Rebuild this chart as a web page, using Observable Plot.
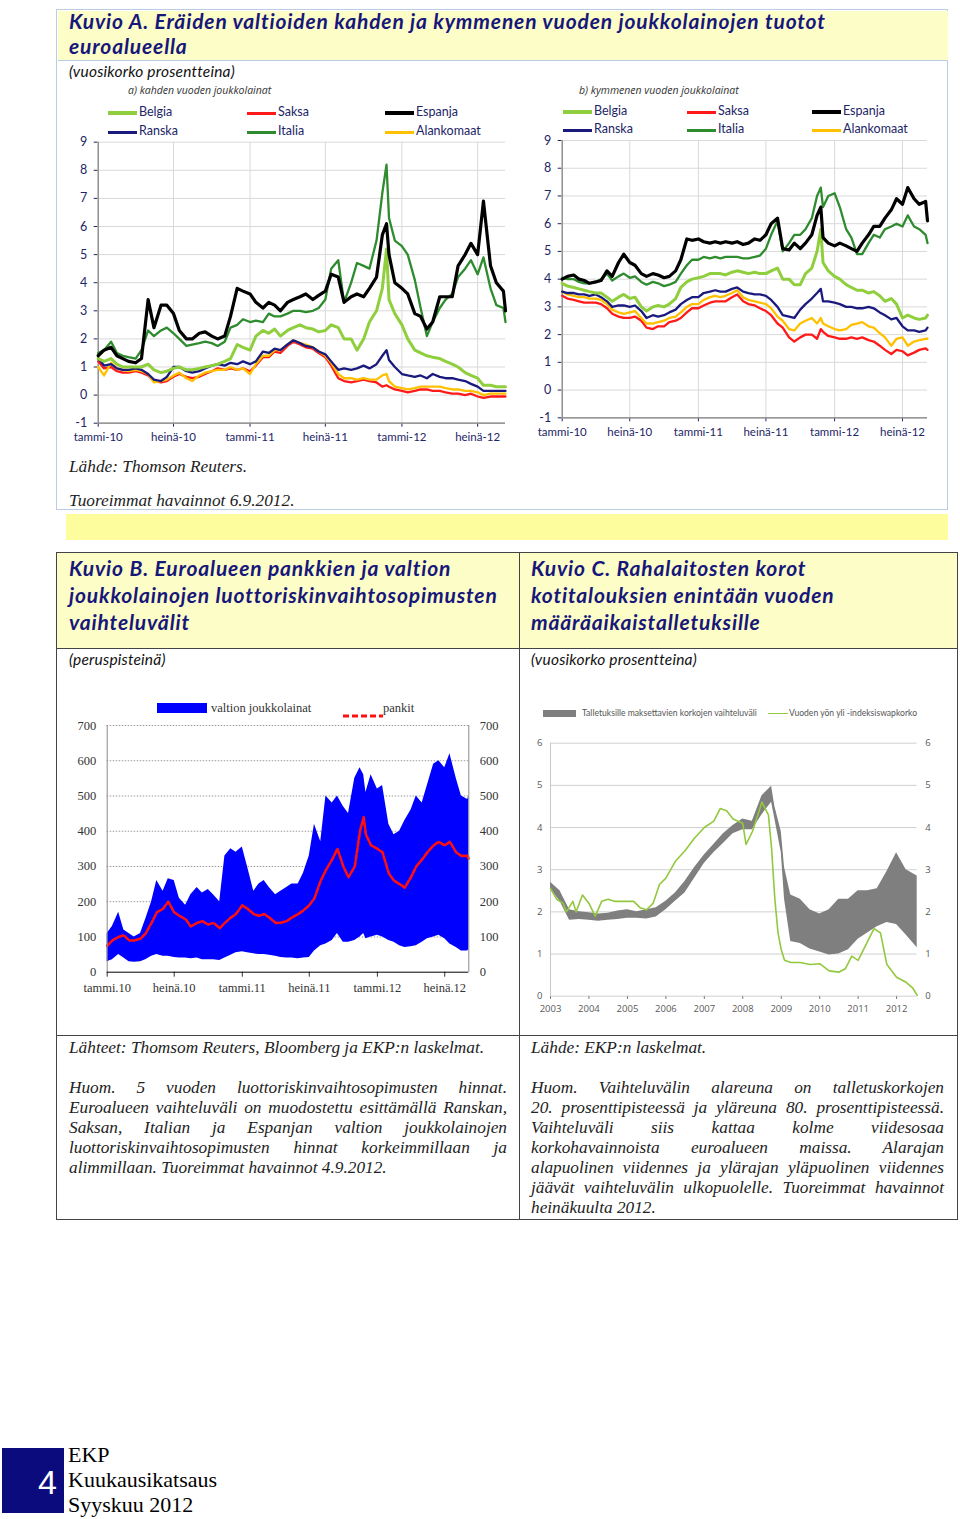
<!DOCTYPE html>
<html><head><meta charset="utf-8">
<script src="https://cdn.jsdelivr.net/npm/d3@7"></script>
<script src="https://cdn.jsdelivr.net/npm/@observablehq/plot@0.6"></script>
<style>
body{margin:0;background:#fff;}
#page{position:relative;width:960px;height:1519px;overflow:hidden;background:#fff;}
.abs{position:absolute;white-space:nowrap;}
.title{font-family:Lato,sans-serif;font-weight:bold;font-style:italic;color:#17177a;font-size:21px;letter-spacing:0.85px;line-height:27px;}
.sub{font-family:Lato,sans-serif;font-style:italic;font-size:15.5px;letter-spacing:0.2px;color:#111;line-height:18px;}
.serif{font-family:"Liberation Serif",serif;font-style:italic;font-size:17.3px;color:#222;line-height:20px;}
.lg{font-family:Lato,sans-serif;font-size:12.5px;color:#1c2566;line-height:14px;}
.pt{font-family:"Open Sans",sans-serif;font-style:italic;font-size:10.5px;color:#333;line-height:12px;}
.pa g[aria-label="x-axis tick label"]{font-size:11.5px;}
svg{overflow:visible;}
</style></head>
<body><div id="page"></div>
<script>
// ---------------- DATA ----------------
const datesA = ["2010-01-01","2010-01-15","2010-02-01","2010-02-15","2010-03-01","2010-03-15","2010-04-01","2010-04-15","2010-05-01","2010-05-15","2010-06-01","2010-06-15","2010-07-01","2010-07-15","2010-08-01","2010-08-15","2010-09-01","2010-09-15","2010-10-01","2010-10-15","2010-11-01","2010-11-15","2010-12-01","2010-12-15",
"2011-01-01","2011-01-15","2011-02-01","2011-02-15","2011-03-01","2011-03-15","2011-04-01","2011-04-15","2011-05-01","2011-05-15","2011-06-01","2011-06-15","2011-07-01","2011-07-15","2011-08-01","2011-08-15","2011-09-01","2011-09-15","2011-10-01","2011-10-15","2011-11-01","2011-11-15","2011-11-25","2011-12-01","2011-12-15",
"2012-01-01","2012-01-15","2012-02-01","2012-02-15","2012-03-01","2012-03-15","2012-04-01","2012-04-15","2012-05-01","2012-05-15","2012-06-01","2012-06-15","2012-07-01","2012-07-15","2012-08-01","2012-08-15","2012-09-01","2012-09-06"];

// 2-year yields
const belgia2y = [1.3,1.2,1.3,1.1,1.0,1.0,1.0,1.0,1.1,0.9,0.8,0.85,0.95,1.0,0.9,0.9,0.95,1.0,1.05,1.1,1.2,1.3,1.8,1.7,
1.6,2.1,2.3,2.2,2.35,2.1,2.3,2.4,2.5,2.4,2.35,2.25,2.3,2.5,2.4,2.0,2.0,1.6,2.0,2.6,3.0,3.8,5.2,3.4,2.9,
2.5,2.0,1.6,1.5,1.4,1.35,1.3,1.2,1.1,1.0,0.8,0.7,0.6,0.35,0.35,0.3,0.3,0.3];
const saksa2y = [1.2,0.95,1.0,0.85,0.8,0.8,0.85,0.8,0.7,0.5,0.45,0.5,0.65,0.75,0.65,0.6,0.65,0.75,0.85,0.95,0.9,0.95,0.9,0.95,
0.85,1.05,1.35,1.35,1.55,1.5,1.75,1.9,1.8,1.7,1.65,1.5,1.35,1.05,0.6,0.5,0.45,0.5,0.55,0.5,0.45,0.3,0.35,0.3,0.2,
0.15,0.1,0.15,0.2,0.2,0.15,0.15,0.1,0.05,0.05,0.0,0.05,-0.05,-0.1,-0.05,-0.05,-0.05,-0.05];
const espanja2y = [1.4,1.6,1.7,1.4,1.3,1.2,1.15,1.3,3.4,2.4,3.2,3.2,2.9,2.3,2.0,2.0,2.2,2.25,2.1,2.0,2.1,2.8,3.8,3.7,
3.6,3.3,3.1,3.3,3.2,3.0,3.3,3.4,3.5,3.6,3.4,3.55,3.7,4.3,4.2,3.3,3.5,3.6,3.5,3.8,4.2,5.7,6.1,5.0,4.0,
3.8,3.6,2.9,2.8,2.35,2.6,3.5,3.5,3.5,4.6,5.0,5.4,5.0,6.9,4.6,4.0,3.7,3.0];
const ranska2y = [1.3,1.05,1.1,0.95,0.9,0.9,0.95,0.9,0.75,0.55,0.5,0.65,1.0,1.0,0.85,0.8,0.85,0.95,1.05,1.1,1.05,1.15,1.1,1.2,
1.1,1.2,1.55,1.5,1.65,1.6,1.8,1.95,1.85,1.75,1.7,1.55,1.45,1.2,0.9,0.95,0.9,0.95,1.05,0.95,1.1,1.4,1.6,1.25,1.0,
0.75,0.7,0.65,0.7,0.6,0.75,0.65,0.6,0.6,0.55,0.5,0.4,0.3,0.15,0.15,0.15,0.15,0.15];
const italia2y = [1.5,1.6,1.9,1.5,1.4,1.35,1.3,1.6,2.3,2.1,2.3,2.4,2.2,2.0,1.75,1.8,1.85,1.9,1.85,1.75,1.9,2.4,2.5,2.7,
2.6,2.65,2.6,2.9,2.8,2.8,2.9,3.0,3.0,2.95,3.0,3.1,3.4,4.5,4.8,3.3,4.0,4.7,4.6,4.5,5.5,7.2,8.2,6.3,5.5,
5.3,5.0,4.1,3.1,2.1,2.6,3.1,3.4,3.6,4.2,4.5,4.8,4.3,4.9,3.8,3.2,3.1,2.6];
const alankomaat2y = [1.0,0.7,1.15,0.95,0.9,0.85,0.9,0.85,0.75,0.45,0.5,0.55,0.7,0.8,0.6,0.5,0.7,0.8,0.85,0.9,0.9,1.0,0.9,0.95,
0.75,1.1,1.4,1.4,1.6,1.6,1.8,1.95,1.85,1.8,1.7,1.55,1.4,1.15,0.75,0.6,0.6,0.55,0.6,0.55,0.55,0.7,0.75,0.5,0.3,
0.25,0.2,0.25,0.3,0.3,0.3,0.3,0.25,0.2,0.2,0.15,0.15,0.1,0.0,0.05,0.05,0.05,0.05];

// 10-year yields
const belgia10y = [3.85,3.75,3.7,3.65,3.6,3.55,3.5,3.5,3.35,3.2,3.35,3.45,3.3,3.35,3.0,2.85,3.0,3.05,3.0,3.1,3.3,3.7,3.9,4.0,
4.05,4.1,4.2,4.2,4.2,4.15,4.25,4.3,4.25,4.2,4.25,4.2,4.2,4.3,4.4,4.0,4.0,3.8,3.8,4.2,4.4,5.0,5.8,4.6,4.3,
4.1,4.0,3.8,3.7,3.6,3.6,3.5,3.55,3.4,3.2,3.3,3.1,2.6,2.7,2.6,2.55,2.6,2.7];
const saksa10y = [3.4,3.3,3.25,3.2,3.15,3.15,3.15,3.1,2.95,2.75,2.65,2.6,2.6,2.65,2.5,2.25,2.2,2.3,2.3,2.45,2.5,2.6,2.8,2.95,
2.95,3.05,3.15,3.2,3.2,3.2,3.35,3.45,3.2,3.1,3.05,2.95,2.85,2.7,2.4,2.25,1.9,1.75,1.9,2.0,2.0,1.85,2.2,2.1,1.95,
1.9,1.85,1.85,1.9,1.85,1.9,1.8,1.75,1.6,1.45,1.3,1.45,1.4,1.25,1.35,1.45,1.5,1.45];
const espanja10y = [4.0,4.1,4.15,4.0,3.95,3.85,3.9,3.95,4.3,4.1,4.6,4.9,4.6,4.5,4.2,4.1,4.2,4.15,4.05,4.1,4.3,4.7,5.45,5.4,
5.45,5.35,5.3,5.35,5.3,5.35,5.3,5.35,5.25,5.3,5.45,5.4,5.6,6.0,6.2,5.1,5.05,5.3,5.1,5.3,5.6,6.3,6.6,5.5,5.3,
5.2,5.3,5.2,5.1,5.0,5.3,5.6,5.9,5.9,6.2,6.5,6.9,6.7,7.3,6.9,6.7,6.8,6.1];
const ranska10y = [3.55,3.5,3.5,3.45,3.45,3.4,3.45,3.35,3.2,3.0,3.05,3.05,3.0,3.05,2.85,2.6,2.7,2.65,2.7,2.8,2.9,3.1,3.25,3.35,
3.35,3.5,3.55,3.6,3.55,3.55,3.65,3.7,3.55,3.5,3.45,3.45,3.4,3.25,3.0,2.7,2.65,2.6,2.9,3.1,3.3,3.5,3.65,3.2,3.2,
3.15,3.1,3.0,3.0,2.95,2.95,3.0,2.95,2.8,2.7,2.55,2.6,2.3,2.15,2.15,2.1,2.15,2.25];
const italia10y = [4.05,4.0,4.0,3.9,3.85,3.85,3.9,4.0,4.2,3.95,4.1,4.2,4.05,4.1,3.9,3.8,3.9,3.85,3.75,3.8,3.9,4.2,4.5,4.7,
4.7,4.8,4.75,4.8,4.75,4.8,4.8,4.8,4.75,4.75,4.8,4.85,5.1,5.6,6.1,5.0,5.3,5.6,5.6,5.8,6.2,7.0,7.3,6.6,7.0,
7.1,6.6,5.8,5.5,4.9,4.9,5.3,5.6,5.5,5.8,5.9,6.0,5.9,6.3,5.9,5.8,5.6,5.3];
const alankomaat10y = [3.55,3.45,3.4,3.35,3.35,3.3,3.3,3.25,3.1,2.9,2.8,2.75,2.8,2.85,2.6,2.4,2.4,2.45,2.5,2.6,2.65,2.8,3.0,3.1,
3.1,3.25,3.35,3.4,3.35,3.4,3.5,3.6,3.35,3.25,3.2,3.15,3.1,2.95,2.65,2.5,2.2,2.15,2.4,2.5,2.6,2.4,2.6,2.4,2.3,
2.2,2.15,2.2,2.35,2.4,2.45,2.3,2.25,2.05,1.9,1.6,1.85,1.9,1.6,1.75,1.8,1.85,1.85];

const seriesNames = ["Belgia","Saksa","Espanja","Ranska","Italia","Alankomaat"];
const tickDatesA = ["2010-01-01","2010-07-01","2011-01-01","2011-07-01","2012-01-01","2012-07-01"];
const tickLabelsA = ["tammi-10","heinä-10","tammi-11","heinä-11","tammi-12","heinä-12"];
const yTicksA = [-1,0,1,2,3,4,5,6,7,8,9];

// Kuvio B: CDS
const datesB = ["2010-01-01","2010-01-15","2010-02-01","2010-02-15","2010-03-01","2010-03-15","2010-04-01","2010-04-15","2010-05-01","2010-05-15","2010-06-01","2010-06-15","2010-07-01","2010-07-15","2010-08-01","2010-08-15","2010-09-01","2010-09-15","2010-10-01","2010-10-15","2010-11-01","2010-11-15","2010-12-01","2010-12-15",
"2011-01-01","2011-01-15","2011-02-01","2011-02-15","2011-03-01","2011-03-15","2011-04-01","2011-04-15","2011-05-01","2011-05-15","2011-06-01","2011-06-15","2011-07-01","2011-07-15","2011-08-01","2011-08-15","2011-09-01","2011-09-15","2011-10-01","2011-10-15","2011-11-01","2011-11-15","2011-11-25","2011-12-01","2011-12-15",
"2012-01-01","2012-01-15","2012-02-01","2012-02-15","2012-03-01","2012-03-15","2012-04-01","2012-04-15","2012-05-01","2012-05-15","2012-06-01","2012-06-15","2012-07-01","2012-07-15","2012-08-01","2012-08-15","2012-09-01","2012-09-04"];
const valtionHigh = [110,130,170,120,110,100,110,150,200,260,230,265,260,210,190,220,240,225,235,220,200,330,350,340,
355,300,230,250,260,240,220,230,240,250,250,280,330,420,370,500,480,500,470,450,550,580,560,510,560,
520,530,420,390,400,430,460,500,480,530,590,600,580,620,550,500,490,500];
const valtionLow = [30,35,50,40,30,28,30,35,45,50,45,45,42,40,40,38,40,35,35,35,33,40,48,55,
58,55,52,50,50,48,45,42,40,40,38,40,42,60,75,80,90,110,85,85,90,100,110,95,100,
105,100,90,85,75,70,72,75,85,95,100,105,95,80,70,60,60,65];
const pankit = [75,90,100,105,90,90,95,110,140,170,180,200,170,160,150,130,140,145,135,140,125,140,155,165,
190,180,165,160,165,155,140,140,145,155,165,175,190,210,260,290,320,350,300,270,300,400,440,390,360,
350,340,280,260,250,240,270,300,320,340,360,370,360,370,340,330,330,320];
const tickLabelsB = ["tammi.10","heinä.10","tammi.11","heinä.11","tammi.12","heinä.12"];
const yTicksB = [0,100,200,300,400,500,600,700];

// Kuvio C: deposit rates
const datesC = ["2003-01","2003-04","2003-07","2003-10","2004-01","2004-04","2004-07","2004-10","2005-01","2005-04","2005-07","2005-10","2006-01","2006-04","2006-07","2006-10","2007-01","2007-04","2007-07","2007-10","2008-01","2008-04","2008-07","2008-10","2008-11","2009-01","2009-02","2009-04","2009-07","2009-10","2010-01","2010-04","2010-07","2010-10","2011-01","2011-04","2011-07","2011-10","2012-01","2012-04","2012-07-15"];
const talletusYla = [2.7,2.5,2.05,2.0,1.98,1.95,1.97,2.02,2.05,2.0,2.05,2.1,2.25,2.45,2.72,3.05,3.35,3.6,3.85,4.05,4.2,4.15,4.75,4.98,4.5,3.9,3.05,2.4,2.3,2.05,1.95,2.05,2.3,2.3,2.5,2.5,2.55,2.95,3.4,3.0,2.85];
const talletusAla = [2.55,2.25,1.8,1.82,1.8,1.78,1.8,1.82,1.85,1.85,1.83,1.88,2.05,2.25,2.45,2.8,3.15,3.4,3.62,3.85,3.95,3.95,4.3,4.6,4.2,3.4,2.3,1.3,1.25,1.12,1.05,0.98,1.0,1.1,1.35,1.5,1.65,1.75,1.7,1.45,1.15];
const oisDates = ["2003-01","2003-03","2003-05","2003-06","2003-08","2003-09","2003-11","2004-01","2004-03","2004-05","2004-07","2004-09","2004-11","2005-01","2005-03","2005-05","2005-07","2005-09","2005-11","2006-01","2006-04","2006-07","2006-10","2007-01","2007-04","2007-06","2007-08","2007-10","2008-01","2008-02","2008-04","2008-07","2008-09","2008-10","2008-11","2008-12","2009-01","2009-02","2009-04","2009-07","2009-10","2010-01","2010-04","2010-07","2010-09","2010-11","2011-01","2011-04","2011-06","2011-08","2011-10","2012-01","2012-04","2012-06","2012-07-15"];
const oisKorko = [2.55,2.3,2.2,2.0,2.25,2.0,2.4,2.2,1.9,2.25,2.3,2.25,2.25,2.25,2.25,2.1,2.05,2.2,2.65,2.8,3.2,3.45,3.75,4.0,4.15,4.45,4.4,4.2,4.1,3.6,3.9,4.6,4.3,3.5,2.3,1.5,1.1,0.85,0.8,0.8,0.75,0.77,0.6,0.57,0.65,0.95,0.85,1.3,1.6,1.5,0.75,0.45,0.33,0.2,0.02];
const yearTicksC = ["2003-01-01","2004-01-01","2005-01-01","2006-01-01","2007-01-01","2008-01-01","2009-01-01","2010-01-01","2011-01-01","2012-01-01"];
const yearLabelsC = ["2003","2004","2005","2006","2007","2008","2009","2010","2011","2012"];
const yTicksC = [0,1,2,3,4,5,6];

// ---------------- BUILD ----------------
const page = document.getElementById("page");
function add(html, css, cls) {
  const d = document.createElement("div");
  d.className = "abs " + (cls || "");
  d.style.cssText += css;
  d.innerHTML = html;
  page.appendChild(d);
  return d;
}
function place(el, left, top, cls) {
  const d = document.createElement("div");
  d.className = "abs " + (cls || "");
  d.style.left = left + "px"; d.style.top = top + "px";
  d.appendChild(el);
  page.appendChild(d);
}
const D = s => new Date(s);

const colors = {Belgia:"#8fce3c", Saksa:"#ff1a1a", Espanja:"#000000", Ranska:"#1a1a7e", Italia:"#2e8b2e", Alankomaat:"#ffc000"};
const widths = {Belgia:3, Saksa:2.3, Espanja:3.2, Ranska:2.3, Italia:2.3, Alankomaat:2.3};
const drawOrder = ["Saksa","Alankomaat","Ranska","Belgia","Italia","Espanja"];

function bondPanel(valuesByName, endDate, w, h, m) {
  const start = D(datesA[0]), end = D(endDate);
  const lab = new Map(tickDatesA.map((d,i)=>[+D(d), tickLabelsA[i]]));
  const marks = [
    Plot.ruleY(yTicksA, {stroke:"#d9d9d9", strokeWidth:1}),
    Plot.ruleX(tickDatesA.map(D), {stroke:"#d9d9d9", strokeWidth:1}),
    Plot.ruleX([start], {stroke:"#7f7f7f", strokeWidth:1.2}),
    Plot.ruleY([-1], {stroke:"#7f7f7f", strokeWidth:1.2})
  ];
  for (const name of drawOrder) {
    const vals = valuesByName[name];
    const rows = datesA.map((d,i)=>({date:D(d), v:vals[i]}));
    marks.push(Plot.line(rows, {x:"date", y:"v", stroke:colors[name], strokeWidth:widths[name], strokeLinejoin:"round"}));
  }
  return Plot.plot({
    width:w, height:h, marginLeft:m[0], marginRight:m[1], marginTop:m[2], marginBottom:m[3],
    style:{fontFamily:"Lato, sans-serif", fontSize:"12.5px", color:"#1c2566", background:"transparent"},
    x:{type:"utc", label:null, domain:[start,end], ticks:tickDatesA.map(D), tickFormat:d=>lab.get(+d), tickSize:4, tickPadding:6},
    y:{label:null, domain:[-1,9], ticks:yTicksA, tickFormat:d=>String(d), tickSize:4, tickPadding:7},
    marks
  });
}

function legendA(cols, rowY, title, titleX) {
  add(title, `left:${titleX}px;top:${84}px;`, "pt");
  const layout = [["Belgia","Saksa","Espanja"],["Ranska","Italia","Alankomaat"]];
  layout.forEach((row,r)=>row.forEach((name,c)=>{
    const x = cols[c], y = rowY[r];
    const sw = name==="Belgia"||name==="Espanja" ? 4.5 : 3;
    add("", `left:${x}px;top:${y - sw/2}px;width:${29}px;height:${sw}px;background:${colors[name]};`);
    add(name, `left:${x+31}px;top:${y-8}px;`, "lg");
  }));
}

// ----- Kuvio A box -----
add("", "left:56px;top:9px;width:890px;height:499px;border:1.5px solid #b9cde5;");
add("", "left:57.5px;top:10.5px;width:890px;height:49.5px;background:#fdfdc8;border-bottom:1.5px solid #b9cde5;");
add("Kuvio A. Eräiden valtioiden kahden ja kymmenen vuoden joukkolainojen tuotot<br>euroalueella", "left:69px;top:8px;line-height:25px;", "title");
add("(vuosikorko prosentteina)", "left:69px;top:62px;", "sub");

const vals2 = {Belgia:belgia2y, Saksa:saksa2y, Espanja:espanja2y, Ranska:ranska2y, Italia:italia2y, Alankomaat:alankomaat2y};
const vals10 = {Belgia:belgia10y, Saksa:saksa10y, Espanja:espanja10y, Ranska:ranska10y, Italia:italia10y, Alankomaat:alankomaat10y};

legendA([108,247,385], [113,132], "a) kahden vuoden joukkolainat", 128);
place(bondPanel(vals2, "2012-09-06", 450, 320, [37.7,5,11.7,27.3]), 60, 130, "pa");
legendA([563,687,812], [112,130], "b) kymmenen vuoden joukkolainat", 579);
place(bondPanel(vals10, "2012-09-06", 420, 320, [41.7,13,10,32.7]), 520, 130, "pa");

add("Lähde: Thomson Reuters.", "left:69px;top:457px;", "serif");
add("Tuoreimmat havainnot 6.9.2012.", "left:69px;top:491px;", "serif");

// yellow band
add("", "left:66px;top:514px;width:882px;height:26px;background:#fdfd9d;");

// ----- Kuvio B / C table -----
add("", "left:57px;top:553px;width:900px;height:95px;background:#fdfdc8;");
add("", "left:56px;top:552px;width:900px;height:666px;border:1.5px solid #444;");
add("", "left:518.5px;top:553px;width:1.5px;height:666px;background:#444;");
add("", "left:57px;top:647.5px;width:900px;height:1.5px;background:#444;");
add("", "left:57px;top:1034.5px;width:900px;height:1.5px;background:#444;");

add("Kuvio B. Euroalueen pankkien ja valtion<br>joukkolainojen luottoriskinvaihtosopimusten<br>vaihteluvälit", "left:69px;top:554px;", "title");
add("Kuvio C. Rahalaitosten korot<br>kotitalouksien enintään vuoden<br>määräaikaistalletuksille", "left:531px;top:554px;", "title");
add("(peruspisteinä)", "left:69px;top:650px;", "sub");
add("(vuosikorko prosentteina)", "left:531px;top:650px;", "sub");

// Kuvio B chart
(function(){
  const start = D(datesB[0]), end = D(datesB[datesB.length-1]);
  const lab = new Map(tickDatesA.map((d,i)=>[+D(d), tickLabelsB[i]]));
  const rows = datesB.map((d,i)=>({date:D(d), low:valtionLow[i], high:valtionHigh[i], bank:pankit[i]}));
  const svg = Plot.plot({
    width:450, height:290, marginLeft:46.7, marginRight:41.7, marginTop:10, marginBottom:33.3,
    style:{fontFamily:"'Liberation Serif', serif", fontSize:"12.5px", color:"#333", background:"transparent"},
    x:{type:"utc", label:null, domain:[start,end], ticks:tickDatesA.map(D), tickFormat:d=>lab.get(+d), tickSize:5, tickPadding:6},
    y:{axis:"both", label:null, domain:[0,700], ticks:yTicksB, tickFormat:d=>String(d), tickSize:0, tickPadding:11},
    marks:[
      Plot.ruleY(yTicksB.filter(v=>v>0), {stroke:"#9a9a9a", strokeWidth:1, strokeDasharray:"1.5,1.5"}),
      Plot.areaY(rows, {x:"date", y1:"low", y2:"high", fill:"#0000ff"}),
      Plot.line(rows, {x:"date", y:"bank", stroke:"#ff1010", strokeWidth:2.6, strokeDasharray:"5,2"}),
      Plot.ruleX([start,end], {stroke:"#8a8a8a", strokeWidth:1}),
      Plot.ruleY([0], {stroke:"#000", strokeWidth:1})
    ]
  });
  place(svg, 60, 715);
  add("", "left:157px;top:703px;width:50px;height:10px;background:#0000ff;");
  add("valtion joukkolainat", "left:211px;top:700px;font-family:'Liberation Serif',serif;font-size:12.5px;color:#333;line-height:16px;");
  add('<svg width="40" height="6"><line x1="0" y1="3" x2="40" y2="3" stroke="#ff1010" stroke-width="3" stroke-dasharray="6,3"/></svg>', "left:343px;top:705px;");
  add("pankit", "left:383px;top:700px;font-family:'Liberation Serif',serif;font-size:12.5px;color:#333;line-height:16px;");
})();

// Kuvio C chart
(function(){
  const start = D("2003-01-01"), end = D("2012-07-15");
  const lab = new Map(yearTicksC.map((d,i)=>[+D(d), yearLabelsC[i]]));
  const band = datesC.map((d,i)=>({date:D(d), lo:talletusAla[i], hi:talletusYla[i]}));
  const ois = oisDates.map((d,i)=>({date:D(d), v:oisKorko[i]}));
  const svg = Plot.plot({
    width:430, height:290, marginLeft:30, marginRight:33.3, marginTop:12.7, marginBottom:24.3,
    style:{fontFamily:"'Open Sans', sans-serif", fontSize:"9.5px", color:"#595959", background:"transparent"},
    x:{type:"utc", label:null, domain:[start,end], ticks:yearTicksC.map(D), tickFormat:d=>lab.get(+d), tickSize:3, tickPadding:6},
    y:{axis:"both", label:null, domain:[0,6], ticks:yTicksC, tickFormat:d=>String(d), tickSize:0, tickPadding:8},
    marks:[
      Plot.ruleY(yTicksC, {stroke:"#d0d0d0", strokeWidth:1}),
      Plot.ruleX([start], {stroke:"#c8c8c8", strokeWidth:1}),
      Plot.areaY(band, {x:"date", y1:"lo", y2:"hi", fill:"#7f7f7f"}),
      Plot.line(ois, {x:"date", y:"v", stroke:"#92c83e", strokeWidth:1.6})
    ]
  });
  place(svg, 520, 730);
  add("", "left:543px;top:710px;width:33px;height:7px;background:#7f7f7f;");
  add("Talletuksille maksettavien korkojen vaihteluväli", "left:582px;top:707px;font-family:Lato,sans-serif;font-size:8.6px;color:#555;line-height:12px;");
  add("", "left:768px;top:712.5px;width:20px;height:1.5px;background:#92c83e;");
  add("Vuoden yön yli -indeksiswapkorko", "left:789px;top:707px;font-family:Lato,sans-serif;font-size:8.6px;color:#555;line-height:12px;");
})();

// sources and notes
add("Lähteet: Thomsom Reuters, Bloomberg ja EKP:n laskelmat.", "left:69px;top:1038px;", "serif");
add("Lähde: EKP:n laskelmat.", "left:531px;top:1038px;", "serif");
const notesB = ["Huom. 5 vuoden luottoriskinvaihtosopimusten hinnat.",
"Euroalueen vaihteluväli on muodostettu esittämällä Ranskan,",
"Saksan, Italian ja Espanjan valtion joukkolainojen",
"luottoriskinvaihtosopimusten hinnat korkeimmillaan ja",
"alimmillaan. Tuoreimmat havainnot 4.9.2012."];
const notesC = ["Huom. Vaihteluvälin alareuna on talletuskorkojen",
"20. prosenttipisteessä ja yläreuna 80. prosenttipisteessä.",
"Vaihteluväli siis kattaa kolme viidesosaa",
"korkohavainnoista euroalueen maissa. Alarajan",
"alapuolinen viidennes ja ylärajan yläpuolinen viidennes",
"jäävät vaihteluvälin ulkopuolelle. Tuoreimmat havainnot",
"heinäkuulta 2012."];
notesB.forEach((t,i)=>add(t, `left:69px;top:${1078+i*20}px;width:438px;` + (i<notesB.length-1?"text-align:justify;text-align-last:justify;":""), "serif"));
notesC.forEach((t,i)=>add(t, `left:531px;top:${1078+i*20}px;width:413px;` + (i<notesC.length-1?"text-align:justify;text-align-last:justify;":""), "serif"));

// footer
add("4", "left:2px;top:1448px;width:62px;height:65px;background:#0b0b7d;color:#fff;font-family:'Liberation Sans',sans-serif;font-size:34px;line-height:65px;text-align:right;box-sizing:border-box;padding-right:7px;padding-top:2px;");
add("EKP<br>Kuukausikatsaus<br>Syyskuu 2012", "left:68px;top:1442px;font-family:'Liberation Serif',serif;font-size:22px;line-height:25px;color:#000;");
</script>
</body></html>
